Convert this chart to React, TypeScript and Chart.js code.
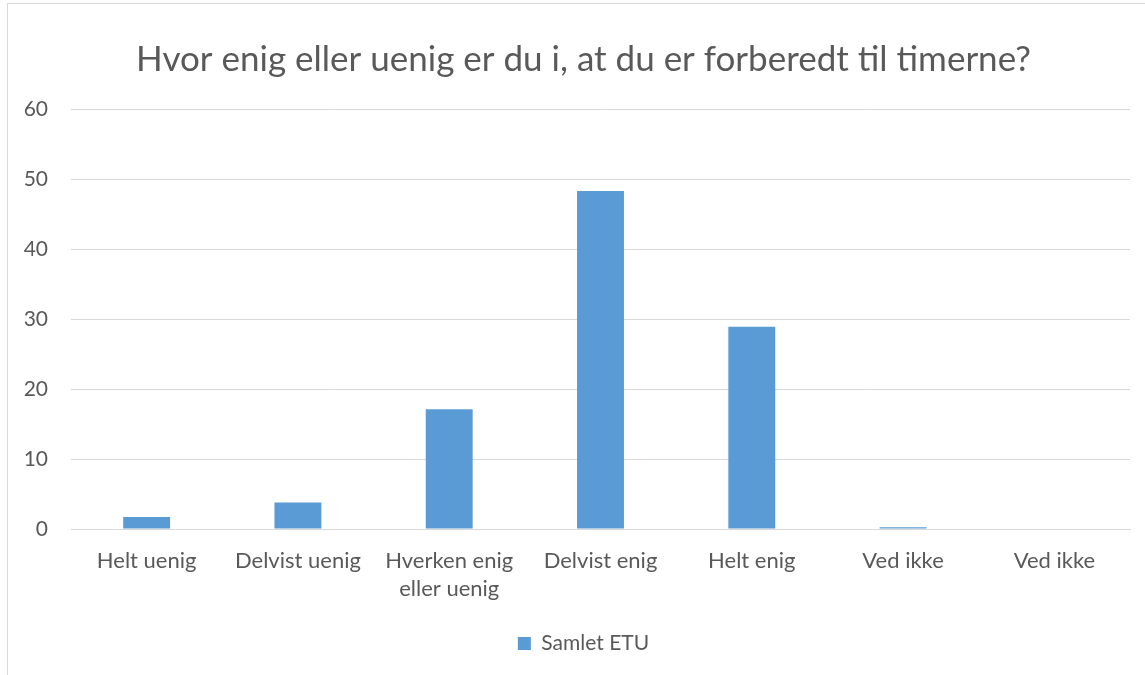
import React, { useEffect, useRef } from "react";
import { Chart, registerables } from "chart.js";

Chart.register(...registerables);

const categories: (string | string[])[] = [
  "Helt uenig",
  "Delvist uenig",
  ["Hverken enig", "eller uenig"],
  "Delvist enig",
  "Helt enig",
  "Ved ikke",
  "Ved ikke",
];
const seriesName = "Samlet ETU";
const seriesValues = [1.7, 3.8, 17.1, 48.3, 28.9, 0.25, 0];
const yTicks = [0, 10, 20, 30, 40, 50, 60];
const titleText = "Hvor enig eller uenig er du i, at du er forberedt til timerne?";

const FONT = "Lato, 'Open Sans', sans-serif";
const TEXT = "#595959";
const GRID = "#D9D9D9";
const BAR = "#5B9BD5";

// let the y tick labels use the space left of the y axis box (no clipping)
const widenYAxis = {
  id: "widenYAxis",
  afterLayout(chart: any) {
    const y = chart.scales.y;
    if (y) y.left = 0;
  },
};

export default function App() {
  const ref = useRef<HTMLCanvasElement | null>(null);
  useEffect(() => {
    if (!ref.current) return;
    const chart = new Chart(ref.current, {
      type: "bar",
      data: {
        labels: categories,
        datasets: [
          {
            label: seriesName,
            data: seriesValues,
            backgroundColor: BAR,
            borderWidth: 0,
            categoryPercentage: 1,
            barPercentage: 0.31,
          },
        ],
      },
      plugins: [widenYAxis],
      options: {
        animation: false,
        responsive: false,
        maintainAspectRatio: false,
        layout: { padding: { left: 29, right: 15, top: 0, bottom: 11 } },
        plugins: {
          tooltip: { enabled: false },
          title: {
            display: true,
            text: titleText,
            color: TEXT,
            font: { family: FONT, size: 35, weight: "normal", lineHeight: 1.2 },
            padding: { top: 35, bottom: 28 },
          },
          legend: {
            position: "bottom",
            labels: {
              color: TEXT,
              font: { family: FONT, size: 21 },
              boxWidth: 13,
              boxHeight: 13,
              padding: 21,
            },
          },
        },
        scales: {
          x: {
            grid: { display: false },
            border: { color: GRID, width: 1 },
            ticks: {
              color: TEXT,
              font: { family: FONT, size: 22, lineHeight: 28 / 22 },
              padding: 9.5,
              maxRotation: 0,
              autoSkip: false,
            },
          },
          y: {
            min: 0,
            max: 60,
            afterFit: (s: any) => {
              s.width = 34;
            },
            afterBuildTicks: (s: any) => {
              s.ticks = yTicks.map((v) => ({ value: v }));
            },
            grid: { color: GRID, lineWidth: 1, drawTicks: false },
            border: { display: false },
            ticks: {
              color: TEXT,
              font: { family: FONT, size: 21 },
              padding: 23,
            },
          },
        },
      },
    });
    return () => chart.destroy();
  }, []);
  return (
    <div
      style={{
        position: "absolute",
        left: 7,
        top: 3,
        width: 1138,
        height: 672,
        borderLeft: "1px solid #D9D9D9",
        borderTop: "1px solid #D9D9D9",
        background: "#fff",
      }}
    >
      <canvas ref={ref} width={1137} height={671} style={{ display: "block" }} />
    </div>
  );
}
